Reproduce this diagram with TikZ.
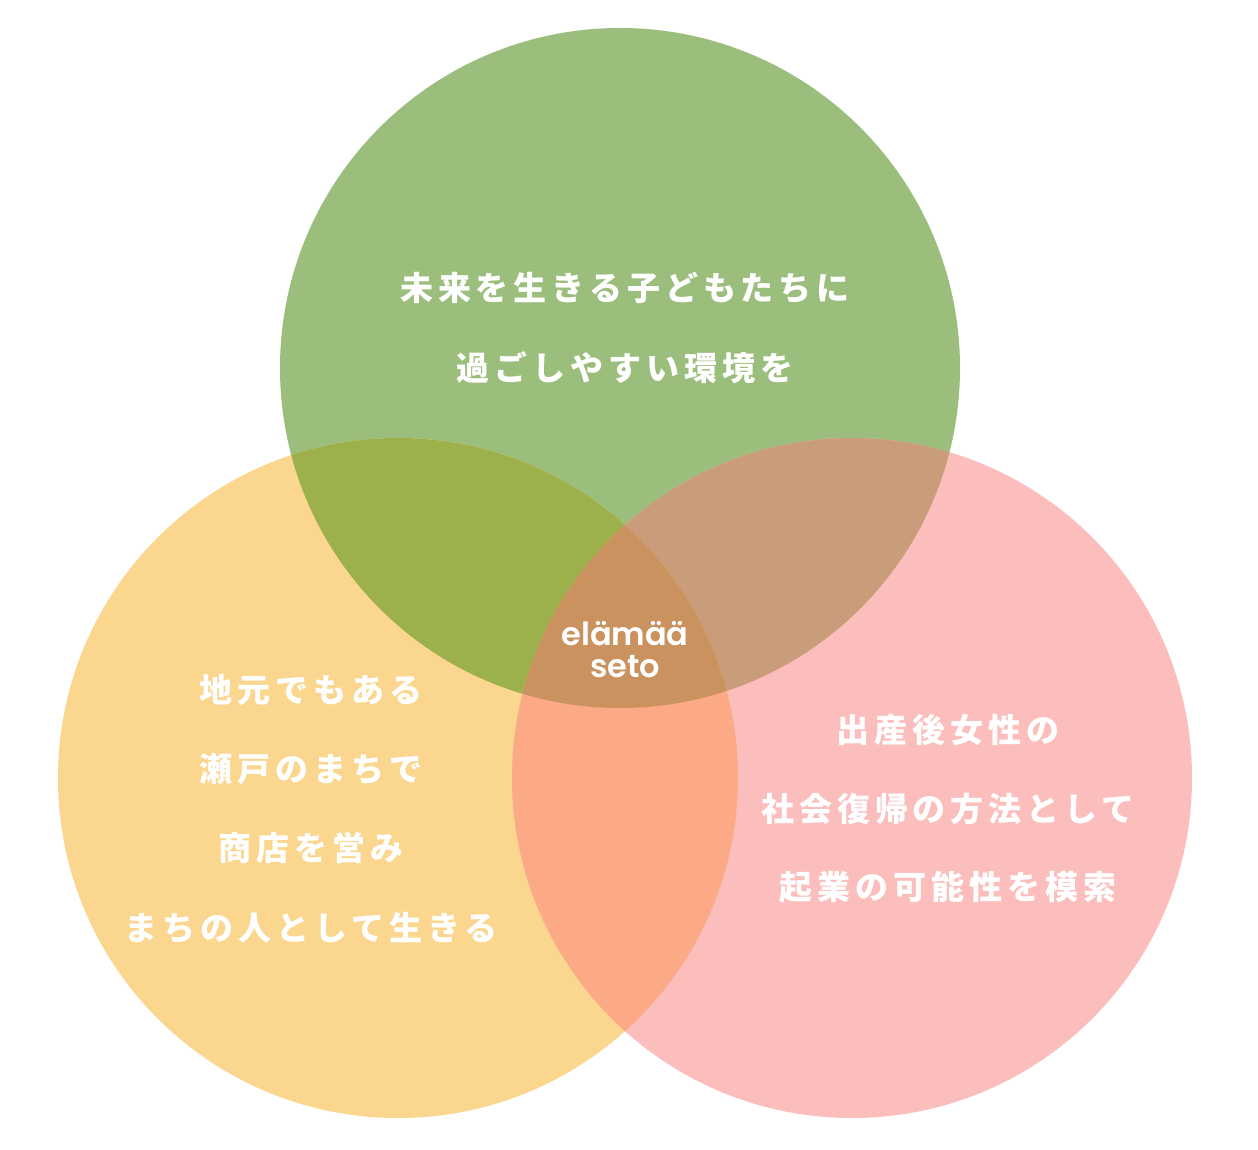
\documentclass[tikz,border=0pt]{standalone}
\usepackage{fontspec}
\newfontfamily\jpfont[LetterSpace=15]{Noto Sans CJK JP}
\newfontfamily\latfont{Poppins SemiBold}
\definecolor{cgreen}{HTML}{9BBE7D}
\definecolor{corange}{HTML}{FBD68F}
\definecolor{cpink}{HTML}{FBBEBC}
\definecolor{cgo}{HTML}{9CB04B}
\definecolor{cgp}{HTML}{C99C7A}
\definecolor{cop}{HTML}{FBAA85}
\definecolor{call}{HTML}{C9925F}
\begin{document}
\begin{tikzpicture}[x=0.5pt,y=-0.5pt,
  jp/.style={text=white,font=\jpfont\bfseries\fontsize{16.5pt}{20pt}\selectfont,inner sep=0pt},
  lat/.style={text=white,font=\latfont\fontsize{16pt}{16pt}\selectfont,inner sep=0pt,anchor=base}]
\useasboundingbox (0,0) rectangle (1258,1150);
\fill[white] (0,0) rectangle (1258,1150);
\coordinate (G) at (620,368);
\coordinate (L) at (398,778);
\coordinate (R) at (852,778);
\fill[cgreen] (G) circle[radius=170pt];
\fill[corange] (L) circle[radius=170pt];
\fill[cpink] (R) circle[radius=170pt];
\begin{scope}
  \clip (G) circle[radius=170pt];
  \fill[cgo] (L) circle[radius=170pt];
  \fill[cgp] (R) circle[radius=170pt];
\end{scope}
\begin{scope}
  \clip (L) circle[radius=170pt];
  \fill[cop] (R) circle[radius=170pt];
  \clip (R) circle[radius=170pt];
  \fill[call] (G) circle[radius=170pt];
\end{scope}
\node[jp] (t1) at (625,288) {未来を生きる子どもたちに};
\node[jp] (t2) at (625,368) {過ごしやすい環境を};
\node[jp] (l1) at (311,690) {地元でもある};
\node[jp] (l2) at (311,769) {瀬戸のまちで};
\node[jp] (l3) at (311,848) {商店を営み};
\node[jp] (l4) at (311,928) {まちの人として生きる};
\node[jp] (r1) at (948,730) {出産後女性の};
\node[jp] (r2) at (948,809) {社会復帰の方法として};
\node[jp] (r3) at (948,887) {起業の可能性を模索};
\node[lat] (c1) at (625,645) {elämää};
\node[lat] (c2) at (625,677) {seto};
\end{tikzpicture}
\end{document}
